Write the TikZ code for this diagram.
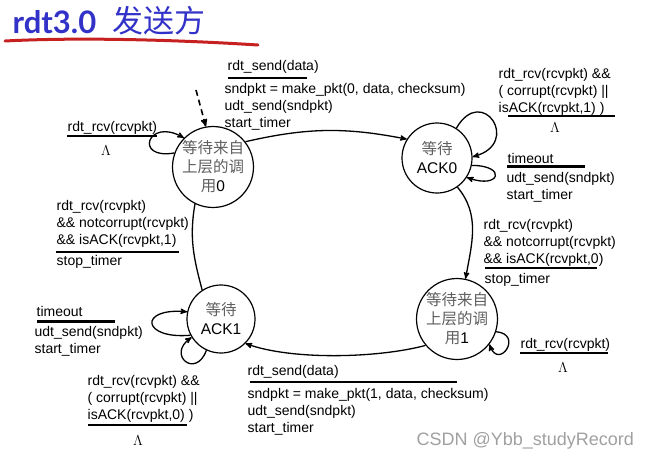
\documentclass[tikz,border=0pt]{standalone}
\usepackage{fontspec}
\setmainfont{Liberation Sans}
\newfontfamily\cjk{Noto Sans CJK SC}
\newfontfamily\titlefont{Lato}
\usepackage{tikz}
\usetikzlibrary{arrows,automata}
\usetikzlibrary{positioning}

\definecolor{titleblue}{RGB}{50,50,200}
\definecolor{brushred}{RGB}{198,32,32}
\definecolor{cjkgray}{RGB}{95,95,95}
\definecolor{markgray}{RGB}{160,160,160}
\newcommand\lblfont{\fontsize{14}{17}\selectfont}
\newcommand\zh[1]{\textcolor{cjkgray}{\cjk #1}}

\begin{document}
\begin{tikzpicture}[->,>=stealth',line width=1.3pt,x=1pt,y=1pt,
    every state/.style={draw,line width=1.2pt,inner sep=0pt,align=center,
      font=\fontsize{15.5}{19}\selectfont},
    hd/.style={anchor=base west,inner sep=0pt,font=\lblfont},
    body/.style={anchor=north west,inner sep=0pt,align=left,font=\lblfont},
    bar/.style={-,line width=2.3pt},
    nil/.style={anchor=base,inner sep=0pt,font=\fontsize{14}{14}\selectfont}]

\useasboundingbox (0,0) rectangle (651,-459);

% title
\node[anchor=base west,inner sep=0pt,text=titleblue,font=\titlefont\bfseries\fontsize{31}{31}\selectfont] (title) at (12,-33) {rdt3.0};
\node[anchor=base west,inner sep=0pt,text=titleblue,font=\cjk\fontsize{31}{31}\selectfont] (titlezh) at (112,-32) {发送方};
\draw[-,brushred,line width=3pt,line cap=round] (5,-41) .. controls (80,-37) and (180,-40) .. (258,-45);

% states
\node[state,minimum size=68pt] (W0) at (213,-167) {\zh{等待来自}\\\zh{上层的调}\\\zh{用}0};
\node[state,minimum size=70pt] (A0) at (437,-158) {\zh{等待}\\ACK0};
\node[state,minimum size=68pt] (A1) at (221,-319) {\zh{等待}\\ACK1};
\node[state,minimum size=76pt] (W1) at (457,-319) {\zh{等待来自}\\\zh{上层的调}\\\zh{用}1};

% transitions
\coordinate (entry) at (196,-90);
\draw[dash pattern=on 6pt off 4pt,line width=1.6pt] (entry) -- (W0.100);
\draw (W0.38) to[bend left=12] (A0.148);
\draw (A0.57) to[out=60,in=15,looseness=4] (A0.2);
\draw (A0.-12) to[out=0,in=-20,looseness=7] (A0.-33);
\draw (A0.-55) to[out=-50,in=80] (W1.78);
\draw (W1.-18) to[out=-5,in=-70,looseness=5] (W1.-38);
\draw (W1.220) to[out=195,in=-20,looseness=.7] (A1.-45);
\draw (A1.208) to[out=185,in=175,looseness=5.3] (A1.168);
\draw (A1.245) to[out=250,in=215,looseness=4] (A1.212);
\draw[-] (A1.123) to[out=105,in=-100] (W0.244);
\draw (W0.160) to[out=190,in=150,looseness=6] (W0.135);

% labels: W0 -> A0
\node[hd] (sendzero) at (227,-70.5) {rdt\_send(data)};
\draw[bar] (228,-78) -- (307,-78);
\node[body] (sendzerodo) at (224,-83) {sndpkt = make\_pkt(0, data, checksum)\\udt\_send(sndpkt)\\start\_timer};

% labels: A0 loops
\node[body] (badzero) at (498,-68) {rdt\_rcv(rcvpkt) \&\&\\( corrupt(rcvpkt) ||\\isACK(rcvpkt,1) )};
\draw[bar] (508,-116) -- (615,-116);
\node[nil] (nilzero) at (555,-132) {$\Lambda$};
\node[hd] (tozero) at (507,-163) {timeout};
\draw[bar] (507,-166.5) -- (585,-166.5);
\node[body] (tozerodo) at (506,-172) {udt\_send(sndpkt)\\start\_timer};

% labels: A0 -> W1
\node[body] (okzero) at (483,-219) {rdt\_rcv(rcvpkt)\\\&\& notcorrupt(rcvpkt)\\\&\& isACK(rcvpkt,0)};
\draw[bar] (485,-268) -- (597,-268);
\node[hd] (okzerodo) at (484,-283) {stop\_timer};

% labels: W1 loop
\node[hd] (idleone) at (520,-348) {rdt\_rcv(rcvpkt)};
\draw[bar] (520,-353) -- (608,-353);
\node[nil] (nilidleone) at (563,-372) {$\Lambda$};

% labels: W1 -> A1
\node[hd] (sendone) at (247,-375.5) {rdt\_send(data)};
\draw[bar] (250,-382) -- (457,-382);
\node[body] (sendonedo) at (247,-388) {sndpkt = make\_pkt(1, data, checksum)\\udt\_send(sndpkt)\\start\_timer};

% labels: W0 loop
\node[hd] (idlezero) at (67,-131.5) {rdt\_rcv(rcvpkt)};
\draw[bar] (67,-136) -- (157,-136);
\node[nil] (nilidlezero) at (106,-155) {$\Lambda$};

% labels: A1 -> W0
\node[body] (okone) at (56,-200) {rdt\_rcv(rcvpkt)\\\&\& notcorrupt(rcvpkt)\\\&\& isACK(rcvpkt,1)};
\draw[bar] (56,-252) -- (179,-252);
\node[hd] (okonedo) at (56,-265) {stop\_timer};

% labels: A1 loops
\node[hd] (toone) at (36,-316.5) {timeout};
\draw[bar] (37,-321.5) -- (115,-321.5);
\node[body] (toonedo) at (34,-325.5) {udt\_send(sndpkt)\\start\_timer};
\node[body] (badone) at (87,-375) {rdt\_rcv(rcvpkt) \&\&\\( corrupt(rcvpkt) ||\\isACK(rcvpkt,0) )};
\draw[bar] (88,-425) -- (187,-425);
\node[nil] (nilone) at (138,-445) {$\Lambda$};

% watermark
\node[anchor=base west,inner sep=0pt,text=markgray,font=\fontsize{18}{18}\selectfont] (mark) at (416,-445) {CSDN @Ybb\_studyRecord};

\end{tikzpicture}
\end{document}
